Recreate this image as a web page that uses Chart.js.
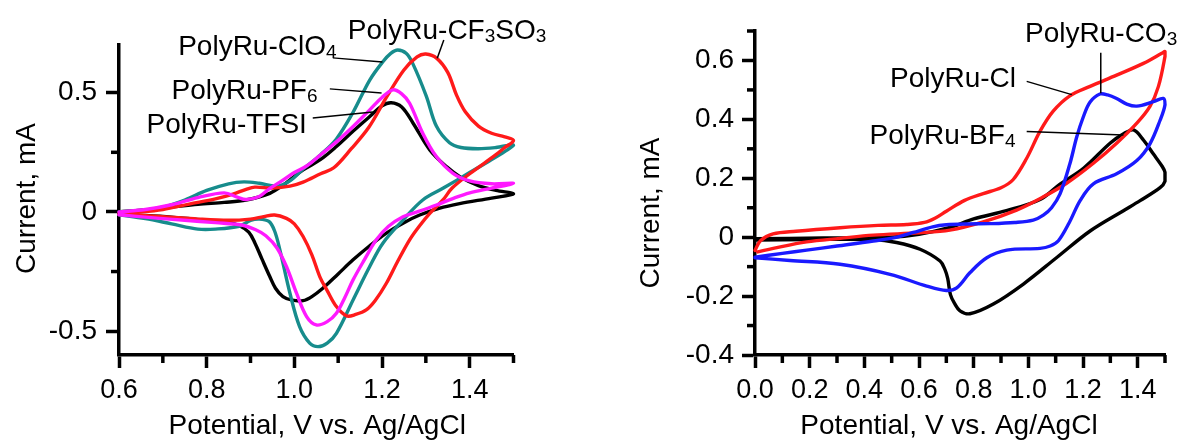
<!DOCTYPE html>
<html>
<head>
<meta charset="utf-8">
<title>PolyRu cyclic voltammograms</title>
<script src="https://cdn.jsdelivr.net/npm/chart.js@4.4.1/dist/chart.umd.min.js"></script>
<style>
  html, body { margin: 0; padding: 0; background: #fff; }
  #wrap { position: relative; width: 1183px; height: 441px; overflow: hidden; background: #fff; }
  #cvLeft { position: absolute; left: 0; top: 0; }
  #cvRight { position: absolute; left: 600px; top: 0; }
</style>
</head>
<body>
<div id="wrap">
  <canvas id="cvLeft" width="600" height="441"></canvas>
  <canvas id="cvRight" width="583" height="441"></canvas>
</div>
<script>
// ---- Left panel: potential (V) / current (mA), anodic sweep then cathodic sweep ----
const tfsiV = [0.60,0.66,0.72,0.78,0.84,0.89,0.944,0.98,1.02,1.06,1.096,1.135,1.172,1.20,1.221,1.245,1.271,1.309,1.347,1.38,1.42,1.46,1.50,
               1.45,1.377,1.33,1.286,1.25,1.21,1.17,1.134,1.10,1.065,1.04,1.02,0.995,0.974,0.957,0.944,0.926,0.91,0.896,0.874,0.85,0.80,0.72,0.66,0.60];
const tfsiI = [0.0,0.008,0.02,0.032,0.04,0.05,0.078,0.12,0.176,0.22,0.274,0.34,0.40,0.445,0.458,0.44,0.372,0.26,0.19,0.145,0.11,0.09,0.076,
               0.058,0.035,0.015,-0.013,-0.045,-0.089,-0.145,-0.201,-0.26,-0.32,-0.355,-0.372,-0.37,-0.355,-0.32,-0.271,-0.197,-0.13,-0.085,-0.057,-0.045,-0.035,-0.022,-0.015,-0.01];

const clo4V = [0.60,0.65,0.70,0.75,0.80,0.85,0.885,0.92,0.96,0.99,1.02,1.06,1.096,1.134,1.172,1.202,1.22,1.236,1.255,1.27,1.301,1.324,1.354,1.38,1.42,1.46,1.50,
               1.45,1.40,1.34,1.293,1.248,1.202,1.172,1.134,1.096,1.075,1.054,1.035,1.012,0.99,0.967,0.955,0.942,0.92,0.90,0.874,0.82,0.78,0.72,0.66,0.60];
const clo4I = [0.0,0.006,0.02,0.05,0.09,0.118,0.126,0.12,0.108,0.13,0.18,0.24,0.306,0.418,0.553,0.63,0.665,0.679,0.665,0.623,0.486,0.36,0.29,0.27,0.265,0.27,0.28,
               0.22,0.165,0.10,0.05,-0.034,-0.131,-0.229,-0.369,-0.509,-0.55,-0.565,-0.55,-0.481,-0.341,-0.159,-0.08,-0.04,-0.03,-0.036,-0.06,-0.072,-0.072,-0.05,-0.028,-0.012];

const pf6V = [0.60,0.66,0.72,0.78,0.84,0.87,0.89,0.92,0.945,0.967,1.00,1.03,1.06,1.10,1.134,1.172,1.20,1.225,1.245,1.263,1.293,1.324,1.362,1.40,1.45,1.50,
              1.45,1.40,1.36,1.324,1.28,1.248,1.215,1.187,1.16,1.134,1.115,1.096,1.075,1.05,1.028,1.005,0.982,0.96,0.935,0.912,0.88,0.82,0.75,0.68,0.60];
const pf6I = [0.0,0.01,0.03,0.06,0.08,0.062,0.052,0.065,0.1,0.125,0.165,0.195,0.24,0.30,0.358,0.428,0.48,0.512,0.495,0.456,0.33,0.232,0.162,0.13,0.118,0.12,
              0.10,0.08,0.055,0.029,0.0,-0.02,-0.06,-0.117,-0.2,-0.285,-0.36,-0.425,-0.46,-0.474,-0.439,-0.341,-0.229,-0.15,-0.1,-0.075,-0.055,-0.045,-0.035,-0.025,-0.012];

const cf3so3V = [0.60,0.65,0.70,0.76,0.82,0.86,0.89,0.91,0.95,0.99,1.02,1.06,1.09,1.13,1.17,1.21,1.25,1.28,1.30,1.325,1.35,1.37,1.39,1.42,1.45,1.48,1.50,
                 1.48,1.46,1.40,1.36,1.339,1.309,1.285,1.263,1.235,1.21,1.185,1.164,1.14,1.119,1.096,1.075,1.058,1.04,1.02,1.0,0.982,0.955,0.93,0.90,0.85,0.78,0.70,0.60];
const cf3so3I = [-0.005,0.0,0.01,0.033,0.055,0.075,0.095,0.104,0.10,0.108,0.125,0.16,0.185,0.265,0.355,0.48,0.595,0.65,0.662,0.644,0.585,0.49,0.42,0.36,0.33,0.315,0.30,
                 0.27,0.24,0.16,0.10,0.05,-0.006,-0.06,-0.117,-0.21,-0.299,-0.37,-0.411,-0.43,-0.436,-0.397,-0.33,-0.271,-0.18,-0.103,-0.05,-0.027,-0.013,-0.02,-0.03,-0.035,-0.03,-0.02,-0.01];

// ---- Right panel ----
const bf4V = [0.0,0.25,0.494,0.60,0.713,0.80,0.92,1.043,1.116,1.203,1.30,1.35,1.385,1.421,1.457,1.49,1.50,
              1.50,1.482,1.409,1.348,1.226,1.104,0.982,0.872,0.786,0.75,0.73,0.715,0.705,0.695,0.677,0.604,0.518,0.433,0.2,0.0];
const bf4I = [-0.005,-0.003,0.0,0.01,0.033,0.062,0.09,0.128,0.18,0.235,0.32,0.352,0.364,0.33,0.283,0.24,0.22,
              0.19,0.168,0.124,0.09,0.021,-0.069,-0.159,-0.227,-0.26,-0.25,-0.225,-0.195,-0.14,-0.11,-0.081,-0.041,-0.018,-0.008,-0.008,-0.01];

const clV = [0.0,0.02,0.066,0.15,0.311,0.45,0.555,0.62,0.66,0.70,0.767,0.835,0.90,0.944,0.994,1.043,1.091,1.152,1.226,1.323,1.421,1.49,1.50,
             1.50,1.476,1.445,1.397,1.323,1.238,1.14,1.055,0.957,0.835,0.713,0.60,0.433,0.311,0.189,0.067,0.01];
const clI = [-0.045,-0.012,0.011,0.02,0.032,0.04,0.043,0.05,0.065,0.088,0.125,0.148,0.168,0.195,0.268,0.36,0.428,0.48,0.512,0.55,0.59,0.625,0.63,
             0.614,0.512,0.444,0.387,0.319,0.251,0.183,0.137,0.092,0.052,0.024,0.015,0.007,-0.004,-0.016,-0.038,-0.05];

const co3V = [0.0,0.1,0.189,0.30,0.433,0.52,0.579,0.65,0.70,0.78,0.86,0.95,1.018,1.055,1.085,1.116,1.152,1.177,1.201,1.226,1.262,1.29,1.323,1.36,1.397,1.457,1.494,1.50,
              1.482,1.445,1.397,1.323,1.238,1.19,1.15,1.11,1.08,1.043,0.921,0.848,0.786,0.738,0.70,0.628,0.494,0.311,0.128,0.0];
const co3I = [-0.068,-0.055,-0.044,-0.03,-0.013,0.0,0.016,0.035,0.042,0.045,0.046,0.05,0.058,0.075,0.10,0.147,0.249,0.34,0.408,0.459,0.486,0.483,0.471,0.452,0.445,0.46,0.471,0.45,
              0.397,0.317,0.26,0.215,0.181,0.125,0.05,-0.012,-0.03,-0.038,-0.044,-0.07,-0.121,-0.172,-0.181,-0.166,-0.126,-0.092,-0.079,-0.07];

// ---- Axis ticks ----
const leftXMajor = [0.6, 0.8, 1.0, 1.2, 1.4];
const leftXMinor = [0.7, 0.9, 1.1, 1.3, 1.5];
const leftXLabels = ['0.6', '0.8', '1.0', '1.2', '1.4'];
const leftYMajor = [-0.5, 0, 0.5];
const leftYMinor = [-0.25, 0.25];
const leftYLabels = ['-0.5', '0', '0.5'];

const rightXMajor = [0.0, 0.2, 0.4, 0.6, 0.8, 1.0, 1.2, 1.4];
const rightXMinor = [0.1, 0.3, 0.5, 0.7, 0.9, 1.1, 1.3, 1.5];
const rightXLabels = ['0.0', '0.2', '0.4', '0.6', '0.8', '1.0', '1.2', '1.4'];
const rightYMajor = [-0.4, -0.2, 0, 0.2, 0.4, 0.6];
const rightYMinor = [-0.3, -0.1, 0.1, 0.3, 0.5, 0.7];
const rightYLabels = ['-0.4', '-0.2', '0', '0.2', '0.4', '0.6'];

// ---- Callout labels (anchors in data units; digits are set as subscripts) ----
const leftCallouts = [
  { text: 'PolyRu-CF3SO3', x: 1.122, y: 0.769, from: [1.341, 0.721], to: [1.326, 0.644] },
  { text: 'PolyRu-ClO4',   x: 0.735, y: 0.700, from: [1.088, 0.646], to: [1.201, 0.629] },
  { text: 'PolyRu-PF6',    x: 0.720, y: 0.516, from: [1.081, 0.516], to: [1.199, 0.499] },
  { text: 'PolyRu-TFSI',   x: 0.663, y: 0.375, from: [1.042, 0.394], to: [1.179, 0.419] }
];
const rightCallouts = [
  { text: 'PolyRu-CO3', x: 0.988, y: 0.695, from: [1.265, 0.626], to: [1.265, 0.489] },
  { text: 'PolyRu-Cl',  x: 0.494, y: 0.545, from: [0.994, 0.529], to: [1.159, 0.484] },
  { text: 'PolyRu-BF4', x: 0.419, y: 0.351, from: [0.994, 0.359], to: [1.348, 0.347] }
];

const FONT = '"Liberation Sans", Arial, Helvetica, sans-serif';
const AXIS_W = 3.5;
const pairs = (xs, ys) => xs.map((v, i) => ({ x: v, y: ys[i] }));

function tickObjects(major, minor) {
  return major.map(v => ({ value: v, major: true }))
    .concat(minor.map(v => ({ value: v, major: false })))
    .sort((a, b) => a.value - b.value);
}

function labelFor(major, labels) {
  return (value, index, ticks) => {
    if (!ticks[index].major) return '';
    const k = major.findIndex(m => Math.abs(m - value) < 1e-9);
    return k >= 0 ? labels[k] : '';
  };
}

const tickColor = c => (c.tick && c.tick.major) ? '#000' : 'rgba(0,0,0,0)';

function xScale(min, max, major, minor, labels) {
  return {
    type: 'linear', position: 'bottom', min, max,
    afterBuildTicks: s => { s.ticks = tickObjects(major, minor); },
    afterFit: s => { s.height = 86; s.paddingLeft = 0; s.paddingRight = 0; },
    border: { display: true, color: '#000', width: AXIS_W },
    grid: { drawOnChartArea: false, drawTicks: true, tickLength: 13, tickWidth: AXIS_W, tickColor },
    ticks: { autoSkip: false, maxRotation: 0, minRotation: 0, padding: 6, color: '#000',
             font: { family: FONT, size: 27 }, callback: labelFor(major, labels) },
    title: { display: false }
  };
}

function yScale(min, max, major, minor, labels, width, pad) {
  return {
    type: 'linear', position: 'left', min, max,
    afterBuildTicks: s => { s.ticks = tickObjects(major, minor); },
    afterFit: s => { s.width = width; s.paddingTop = 0; s.paddingBottom = 0; },
    border: { display: true, color: '#000', width: AXIS_W },
    grid: { drawOnChartArea: false, drawTicks: true, tickLength: 13, tickWidth: AXIS_W, tickColor },
    ticks: { autoSkip: false, padding: pad, color: '#000',
             font: { family: FONT, size: 28 }, callback: labelFor(major, labels) },
    title: { display: false }
  };
}

// Shorter minor ticks, drawn on the same scales
const minorTicks = {
  id: 'minorTicks',
  afterDraw(chart) {
    const { ctx, chartArea: a } = chart;
    ctx.save();
    ctx.strokeStyle = '#000';
    ctx.lineWidth = AXIS_W;
    const sx = chart.scales.x, sy = chart.scales.y;
    sx.ticks.forEach(t => {
      if (t.major) return;
      const p = sx.getPixelForValue(t.value);
      ctx.beginPath(); ctx.moveTo(p, a.bottom); ctx.lineTo(p, a.bottom + 8); ctx.stroke();
    });
    sy.ticks.forEach(t => {
      if (t.major) return;
      const p = sy.getPixelForValue(t.value);
      ctx.beginPath(); ctx.moveTo(a.left, p); ctx.lineTo(a.left - 8, p); ctx.stroke();
    });
    ctx.restore();
  }
};

// Text with digits set as subscripts
function drawRich(ctx, text, x, baseline) {
  let cx = x;
  text.split(/(\d)/).forEach(part => {
    if (!part) return;
    const sub = /^\d$/.test(part);
    ctx.font = (sub ? '19px ' : '28px ') + FONT;
    ctx.fillText(part, cx, sub ? baseline + 3 : baseline);
    cx += ctx.measureText(part).width;
  });
}

function calloutPlugin(items) {
  return {
    id: 'callouts',
    afterDatasetsDraw(chart) {
      const { ctx } = chart;
      const sx = chart.scales.x, sy = chart.scales.y;
      ctx.save();
      ctx.fillStyle = '#000';
      ctx.strokeStyle = '#000';
      ctx.lineWidth = 1.5;
      ctx.textAlign = 'left';
      ctx.textBaseline = 'alphabetic';
      items.forEach(it => {
        ctx.beginPath();
        ctx.moveTo(sx.getPixelForValue(it.from[0]), sy.getPixelForValue(it.from[1]));
        ctx.lineTo(sx.getPixelForValue(it.to[0]), sy.getPixelForValue(it.to[1]));
        ctx.stroke();
        drawRich(ctx, it.text, sx.getPixelForValue(it.x), sy.getPixelForValue(it.y) + 10);
      });
      ctx.restore();
    }
  };
}

// Axis titles placed relative to the plot area
function axisTitlePlugin(t) {
  return {
    id: 'axisTitles',
    afterDraw(chart) {
      const { ctx, chartArea: a } = chart;
      ctx.save();
      ctx.fillStyle = '#000';
      ctx.font = '28px ' + FONT;
      ctx.textAlign = 'center';
      ctx.textBaseline = 'alphabetic';
      ctx.fillText(t.x, (a.left + a.right) / 2 + t.xdx, a.bottom + t.xdy);
      ctx.translate(a.left - t.ydx, (a.top + a.bottom) / 2 + t.ydy);
      ctx.rotate(-Math.PI / 2);
      ctx.fillText(t.y, 0, 0);
      ctx.restore();
    }
  };
}

const TEAL = '#178c8c', RED = '#ff1a1a', MAGENTA = '#ff19ff', BLACK = '#000000', BLUE = '#1a1aff';

function series(label, xs, ys, color) {
  return { label, data: pairs(xs, ys), borderColor: color, backgroundColor: color,
           borderWidth: 3.4, pointRadius: 0, pointHoverRadius: 0, showLine: true, fill: false,
           tension: 0.35, clip: false, borderCapStyle: 'round', borderJoinStyle: 'round' };
}

const common = {
  responsive: false, animation: false, events: [],
  plugins: { legend: { display: false }, tooltip: { enabled: false } }
};

new Chart(document.getElementById('cvLeft'), {
  type: 'scatter',
  data: { datasets: [
    series('PolyRu-PF6', pf6V, pf6I, MAGENTA),
    series('PolyRu-CF3SO3', cf3so3V, cf3so3I, RED),
    series('PolyRu-ClO4', clo4V, clo4I, TEAL),
    series('PolyRu-TFSI', tfsiV, tfsiI, BLACK)
  ] },
  options: Object.assign({}, common, {
    layout: { padding: { left: 0, right: 86.5, top: 45, bottom: 0 } },
    scales: {
      x: xScale(0.6, 1.5, leftXMajor, leftXMinor, leftXLabels),
      y: yScale(-0.6, 0.7, leftYMajor, leftYMinor, leftYLabels, 119, 9)
    }
  }),
  plugins: [minorTicks, calloutPlugin(leftCallouts),
            axisTitlePlugin({ x: 'Potential, V vs. Ag/AgCl', xdx: 1, xdy: 78.5,
                              y: 'Current, mA', ydx: 84, ydy: -1.5 })]
});

new Chart(document.getElementById('cvRight'), {
  type: 'scatter',
  data: { datasets: [
    series('PolyRu-CO3', co3V, co3I, BLUE),
    series('PolyRu-Cl', clV, clI, RED),
    series('PolyRu-BF4', bf4V, bf4I, BLACK)
  ] },
  options: Object.assign({}, common, {
    layout: { padding: { left: 0, right: 18, top: 31, bottom: 0 } },
    scales: {
      x: xScale(0, 1.5, rightXMajor, rightXMinor, rightXLabels),
      y: yScale(-0.4, 0.7, rightYMajor, rightYMinor, rightYLabels, 155, 8)
    }
  }),
  plugins: [minorTicks, calloutPlugin(rightCallouts),
            axisTitlePlugin({ x: 'Potential, V vs. Ag/AgCl', xdx: -11, xdy: 78.5,
                              y: 'Current, mA', ydx: 96, ydy: 20 })]
});
</script>
</body>
</html>
